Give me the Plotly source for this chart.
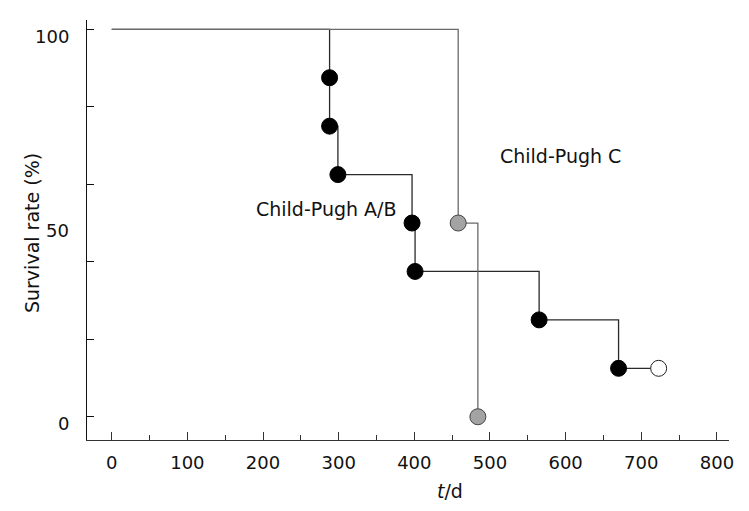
import plotly.graph_objects as go

# ---- data ----
ab_time = [288, 288, 299, 397, 401, 565, 670]
ab_surv = [87.5, 75, 62.5, 50, 37.5, 25, 12.5]
ab_censor_time = [723]
ab_censor_surv = [12.5]

c_time = [458, 484]
c_surv = [50, 0]

x_ticks = [0, 100, 200, 300, 400, 500, 600, 700, 800]
x_minor = [50, 150, 250, 350, 450, 550, 650, 750]
y_ticks = [0, 20, 40, 60, 80, 100]
y_label_vals = [0, 50, 100]
y_label_text = ["0", "50", "100"]

FONT = "DejaVu Sans, Verdana, sans-serif"
FS = 19
TFS = 18

def km_path(times, surv, end_time=None, end_surv=None):
    xs = [0] + list(times)
    ys = [100] + list(surv)
    if end_time is not None:
        xs += list(end_time)
        ys += list(end_surv)
    return xs, ys

fig = go.Figure()

ax, ay = km_path(ab_time, ab_surv, ab_censor_time, ab_censor_surv)
fig.add_trace(go.Scatter(x=ax, y=ay, mode="lines", line_shape="hv",
                         line=dict(color="#2a2a2a", width=1.3), hoverinfo="skip"))
cx, cy = km_path(c_time, c_surv)
fig.add_trace(go.Scatter(x=cx, y=cy, mode="lines", line_shape="hv",
                         line=dict(color="#6a6a6a", width=1.3), hoverinfo="skip"))

fig.add_trace(go.Scatter(x=c_time, y=c_surv, mode="markers",
                         marker=dict(size=16, color="#a3a3a3", line=dict(color="#444", width=1))))
fig.add_trace(go.Scatter(x=ab_time, y=ab_surv, mode="markers",
                         marker=dict(size=16, color="#000000", line=dict(color="#000", width=1))))
fig.add_trace(go.Scatter(x=ab_censor_time, y=ab_censor_surv, mode="markers",
                         marker=dict(size=16, color="#ffffff", line=dict(color="#222", width=1))))

annotations = []
for v, t in zip(y_label_vals, y_label_text):
    annotations.append(dict(x=0, xref="paper", xanchor="right", xshift=-16,
                            y=v, yref="y", yanchor="middle", yshift=-7,
                            text=t, showarrow=False, font=dict(family=FONT, size=TFS, color="#111")))
annotations.append(dict(x=593, y=67.3, xref="x", yref="y", text="Child-Pugh C", showarrow=False,
                        font=dict(family=FONT, size=FS, color="#111")))
annotations.append(dict(x=283.5, y=53.6, xref="x", yref="y", text="Child-Pugh A/B", showarrow=False,
                        font=dict(family=FONT, size=FS, color="#111")))
annotations.append(dict(x=447.5, xref="x", y=-0.153, yref="paper", text="<i>t</i>/d", showarrow=False,
                        font=dict(family=FONT, size=FS, color="#111")))
annotations.append(dict(x=-0.106, xref="paper", y=47.4, yref="y", text="Survival rate (%)",
                        textangle=-90, showarrow=False, font=dict(family=FONT, size=FS, color="#111")))

fig.update_layout(
    width=741, height=503,
    margin=dict(l=79, r=20, t=12, b=71),
    plot_bgcolor="white", paper_bgcolor="white",
    showlegend=False,
    annotations=annotations,
    font=dict(family=FONT, size=FS, color="#111"),
)
fig.update_xaxes(range=[-32.7, 816], showgrid=False, zeroline=False,
                 showline=True, linecolor="#333", linewidth=1.3,
                 tickmode="array", tickvals=x_ticks, ticktext=[str(v) for v in x_ticks],
                 ticks="inside", ticklen=8, tickcolor="#333", tickwidth=1.3,
                 ticklabelstandoff=6,
                 minor=dict(tickmode="array", tickvals=x_minor, ticks="inside", ticklen=5,
                            tickcolor="#333", tickwidth=1.2, showgrid=False),
                 tickfont=dict(family=FONT, size=TFS, color="#111"))
fig.update_yaxes(range=[-6.0, 102.4], showgrid=False, zeroline=False,
                 showline=True, linecolor="#111", linewidth=1.3,
                 tickmode="array", tickvals=y_ticks, ticktext=["" for _ in y_ticks],
                 ticks="inside", ticklen=7, tickcolor="#111", tickwidth=1.2)

fig.write_html("out.html")
